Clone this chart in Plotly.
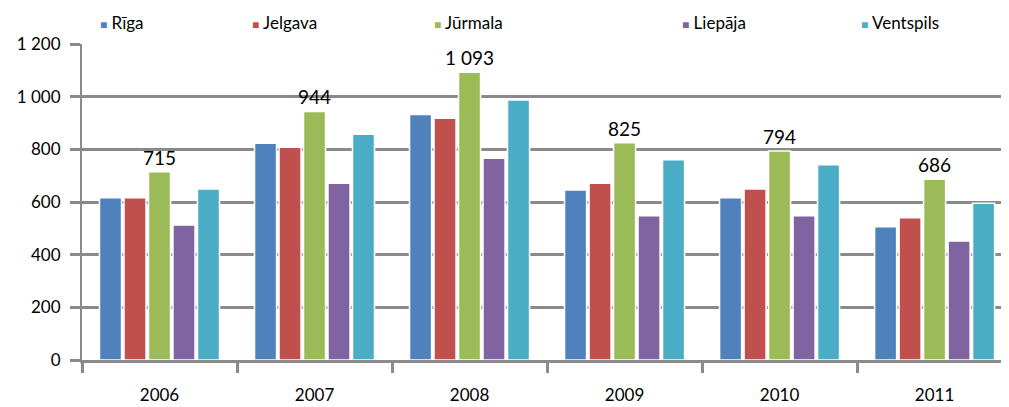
import plotly.graph_objects as go

years = ["2006", "2007", "2008", "2009", "2010", "2011"]
series_names = ["Rīga", "Jelgava", "Jūrmala", "Liepāja", "Ventspils"]
riga = [616, 823, 932, 646, 616, 506]
jelgava = [616, 808, 918, 671, 649, 540]
jurmala = [715, 944, 1093, 825, 794, 686]
liepaja = [513, 671, 766, 548, 548, 452]
ventspils = [649, 857, 987, 760, 741, 595]
colors = ["#4F81BD", "#C0504D", "#9BBB59", "#8064A2", "#4BACC6"]
y_ticks = [0, 200, 400, 600, 800, 1000, 1200]
y_tick_labels = ["0", "200", "400", "600", "800", "1 000", "1 200"]

def fmt(v):
    return f"{v:,}".replace(",", " ")

# page has an 8px body offset; compensate in margins
OFF = 8
W, H = 1009, 407
ML, MR, MT, MB = 82 - OFF, OFF, 44 - OFF, 47 + OFF

fig = go.Figure()
all_series = [riga, jelgava, jurmala, liepaja, ventspils]
for name, vals, col in zip(series_names, all_series, colors):
    show_text = name == "Jūrmala"
    fig.add_trace(go.Bar(
        x=years, y=vals, name=name,
        marker=dict(color=col, line=dict(color="white", width=1.5)),
        text=[fmt(v) for v in vals] if show_text else None,
        textposition="outside" if show_text else "none",
        constraintext="none",
        textfont=dict(family="Lato, sans-serif", size=19, color="black"),
        cliponaxis=False,
        showlegend=False,
    ))

# legend as annotations (irregular spacing in reference)
legend_x_px = [103, 255, 437, 685, 864]
plot_w = W - ML - MR
plot_h = H - MT - MB
legend_y_px = 22
for name, col, px in zip(series_names, colors, legend_x_px):
    fig.add_annotation(
        x=(px - 5 - OFF - ML) / plot_w, xref="paper", xanchor="left",
        y=1 + (MT + OFF - legend_y_px) / plot_h, yref="paper", yanchor="middle",
        text=f'<span style="color:{col};font-size:12px">■</span> {name}',
        showarrow=False,
        font=dict(family="Lato, sans-serif", size=17, color="black"),
    )

fig.update_layout(
    width=W, height=H,
    margin=dict(l=ML, r=MR, t=MT, b=MB),
    paper_bgcolor="white", plot_bgcolor="white",
    barmode="group", bargap=0.21, bargroupgap=0.1,
    font=dict(family="Lato, sans-serif", size=17, color="black"),
)
fig.update_xaxes(
    range=[-0.5, 5.48],
    showline=True, linecolor="#8A8A8A", linewidth=3,
    ticks="outside", tickson="boundaries", ticklen=10, tickwidth=3, tickcolor="#8A8A8A",
    tickfont=dict(size=17), showgrid=False, ticklabelstandoff=18,
)
fig.update_yaxes(
    range=[0, 1200], tickvals=y_ticks, ticktext=y_tick_labels,
    showline=True, linecolor="#8A8A8A", linewidth=2,
    ticks="outside", ticklen=10, tickwidth=3, tickcolor="#8A8A8A",
    showgrid=True, gridcolor="#8A8A8A", gridwidth=3,
    zeroline=False, tickfont=dict(size=17), ticklabelstandoff=6,
)

fig.write_html("out.html")
